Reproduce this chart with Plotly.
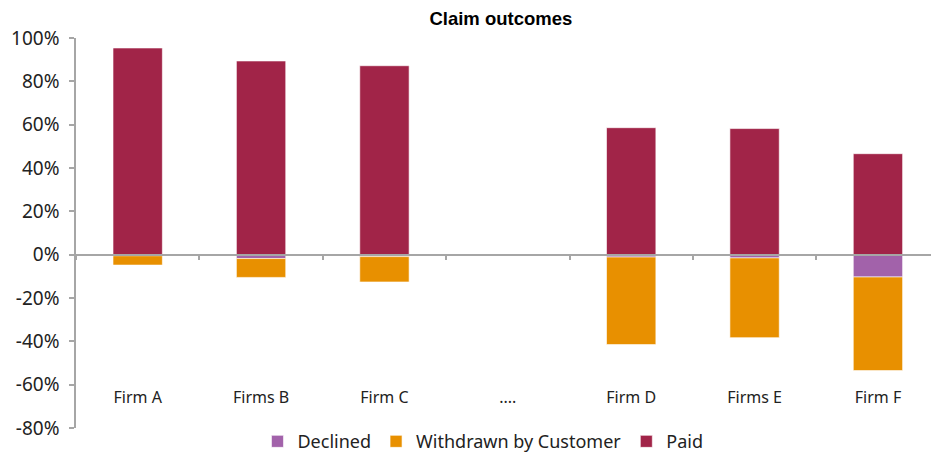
import plotly.graph_objects as go

categories = ["Firm A", "Firms B", "Firm C", "....", "Firm D", "Firms E", "Firm F"]
declined = [-0.5, -1.8, -0.9, None, -1.1, -1.5, -10.3]
withdrawn = [-4.3, -8.7, -11.7, None, -40.4, -36.8, -43.2]
paid = [95.4, 89.4, 87.2, None, 58.6, 58.2, 46.6]
y_ticks = [100, 80, 60, 40, 20, 0, -20, -40, -60, -80]
y_tick_labels = [f"{v}%" for v in y_ticks]

FONT = "Noto Sans"
border = dict(color="rgba(255,255,255,0.6)", width=1)

fig = go.Figure()
fig.add_trace(go.Bar(name="Declined", x=categories, y=declined,
                     marker=dict(color="#A262AA", line=border), width=0.4))
fig.add_trace(go.Bar(name="Withdrawn by Customer", x=categories, y=withdrawn,
                     marker=dict(color="#E89000", line=border), width=0.4))
fig.add_trace(go.Bar(name="Paid", x=categories, y=paid,
                     marker=dict(color="#A12448", line=border), width=0.4))
# helper trace for the label axis
fig.add_trace(go.Scatter(x=categories, y=[0] * len(categories), xaxis="x2",
                         mode="markers", marker=dict(opacity=0), showlegend=False,
                         hoverinfo="skip"))

fig.update_layout(
    width=931, height=456,
    barmode="relative",
    plot_bgcolor="white", paper_bgcolor="white",
    margin=dict(l=76, r=0, t=38, b=28, autoexpand=False),
    font=dict(family=FONT, color="#222222"),
    title=dict(text="<b>Claim outcomes</b>", xref="container", x=0.538, xanchor="center",
               yref="container", y=0.96, yanchor="middle",
               font=dict(family="Liberation Sans, Arial", size=18.5, color="black")),
    xaxis=dict(type="category", categoryorder="array", categoryarray=categories,
               range=[-0.5, 6.43], anchor="free", position=80 / 180, automargin=False,
               showline=True, linecolor="#A6A6A6", linewidth=1.5,
               ticks="outside", tickson="boundaries", ticklen=5, tickcolor="#A6A6A6",
               tickwidth=1.5, showticklabels=False, showgrid=False, zeroline=False),
    xaxis2=dict(type="category", categoryorder="array", categoryarray=categories,
                range=[-0.5, 6.43], overlaying="x", anchor="free", position=0.107,
                automargin=False,
                showline=False, ticks="", showgrid=False, zeroline=False,
                tickfont=dict(family=FONT, size=16, color="#222222")),
    yaxis=dict(range=[-80, 100], tickmode="array", tickvals=y_ticks, ticktext=y_tick_labels,
               automargin=False, ticklabelstandoff=6,
               showline=True, linecolor="#A6A6A6", linewidth=1.5, ticks="outside",
               ticklen=5, tickcolor="#A6A6A6", tickwidth=1.5, showgrid=False,
               zeroline=False, tickfont=dict(family=FONT, size=19, color="#222222")),
    legend=dict(orientation="h", x=0.476, xanchor="center", y=-0.035, yanchor="middle",
                font=dict(family=FONT, size=18, color="#222222"),
                traceorder="normal", itemwidth=30),
    showlegend=True,
)

fig.write_html("out.html", config={"displayModeBar": False},
               post_script="document.body.style.margin='0px';")
